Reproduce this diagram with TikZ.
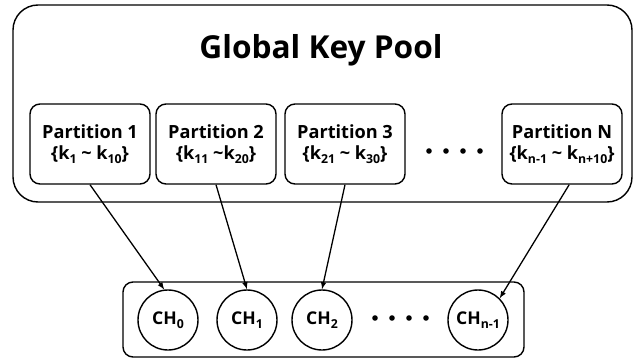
\documentclass[tikz,border=0pt]{standalone}
\usepackage{fontspec}
\setmainfont{Open Sans}
\newcommand{\ksub}[1]{\raisebox{-0.45ex}{\fontsize{10.5}{11}\selectfont #1}}

\tikzset{
  pool/.style={draw,line width=1.2pt,rounded corners=0.75cm},
  part/.style={draw,line width=1.2pt,rounded corners=0.3cm,minimum width=3.6cm,minimum height=2.4cm,inner sep=1pt,align=center,font=\fontsize{15.5}{18}\selectfont\bfseries},
  chan/.style={draw,line width=1.2pt,circle,minimum size=1.8cm,inner sep=0pt,font=\fontsize{15}{17}\selectfont\bfseries},
  link/.style={line width=1.1pt,-latex}
}

\begin{document}
\begin{tikzpicture}[x=0.03cm,y=-0.03cm]
\useasboundingbox (0,0) rectangle (636,360);
% key pool
\draw[pool] (13,5) rectangle (632,202);
\node[font=\fontsize{27}{30}\selectfont\bfseries] (title) at (321,50) {Global Key Pool};

\node[part] (p1) at (90,144) {Partition 1\\\{k\ksub{1} \textasciitilde{} k\ksub{10}\}};
\node[part] (p2) at (216,144) {Partition 2\\\{k\ksub{11} \textasciitilde k\ksub{20}\}};
\node[part] (p3) at (345,144) {Partition 3\\\{k\ksub{21} \textasciitilde{} k\ksub{30}\}};
\node[part] (pn) at (562,144) {Partition N\\\{k\ksub{n-1} \textasciitilde{} k\ksub{n+10}\}};

\fill (429,151) circle (2.8);
\fill (446,151) circle (2.8);
\fill (463,151) circle (2.8);
\fill (480,151) circle (2.8);

% channels
\draw[line width=1.2pt,rounded corners=0.3cm] (123,282) rectangle (524,357);
\node[chan] (c0) at (168,320) {CH\ksub{0}};
\node[chan] (c1) at (247,320) {CH\ksub{1}};
\node[chan] (c2) at (322,320) {CH\ksub{2}};
\node[chan] (cn) at (478,320) {CH\ksub{n-1}};

\fill (375,318) circle (2.8);
\fill (392,318) circle (2.8);
\fill (409,318) circle (2.8);
\fill (426,318) circle (2.8);

\draw[link] (p1.south) -- (c0.97);
\draw[link] (p2.south) -- (c1.north);
\draw[link] (p3.south) -- (c2.north);
\draw[link] (pn.-80) -- (cn.45);
\end{tikzpicture}
\end{document}
